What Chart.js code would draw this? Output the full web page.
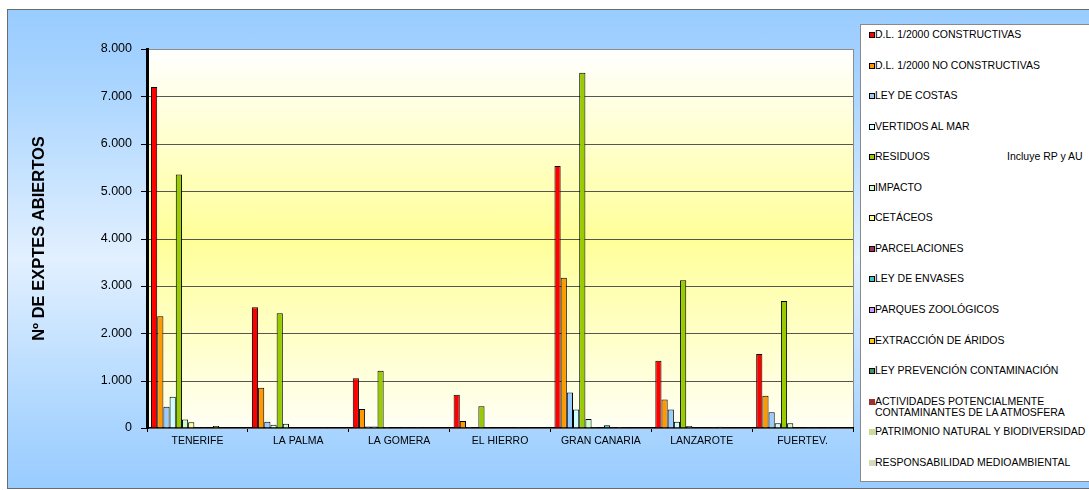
<!DOCTYPE html>
<html>
<head>
<meta charset="utf-8">
<script src="https://cdn.jsdelivr.net/npm/chart.js@4.4.1/dist/chart.umd.min.js"></script>
<style>
    body { margin: 0; width: 1089px; height: 490px; overflow: hidden; background: #fff; position: relative; }
    #frame {
        position: absolute; left: 7px; top: 9px; width: 1090px; height: 478px;
        border: 1px solid #6b6b6b;
        background: linear-gradient(to bottom, #99ccff 0%, #a8d4ff 15%, #e2f0ff 52%, #a8d4ff 88%, #99ccff 100%);
    }
    #plot {
        position: absolute; box-sizing: border-box;
        border-top: 1px solid #8c8c8c; border-right: 1px solid #8c8c8c;
        background: linear-gradient(to bottom, #ffffff 0%, #ffff99 50%, #fffff4 100%);
    }
    #wrap { position: absolute; left: 0; top: 0; width: 1089px; height: 490px; }
    #legend {
        position: absolute; left: 860px; top: 24px; width: 240px; height: 456px;
        border: 1px solid #8a8a8a; background: #fff;
        font-family: "Liberation Sans", Arial, sans-serif; font-size: 10.5px; color: #000;
    }
    .item { position: absolute; left: 8px; line-height: 11px; }
    .item .box { position: absolute; left: 0; top: 3px; width: 6px; height: 6px; box-sizing: border-box; }
    .item .txt { position: absolute; left: 6px; top: 0; white-space: pre; }
    .note { position: absolute; left: 146px; white-space: pre; }
</style>
</head>
<body>
<div id="frame"></div>
<div id="plot"></div>
<div id="wrap"><canvas id="chart" width="1089" height="490"></canvas></div>
<div id="legend"></div>

<script>
// Islands on the x axis
const islands = ['TENERIFE', 'LA PALMA', 'LA GOMERA', 'EL HIERRO', 'GRAN CANARIA', 'LANZAROTE', 'FUERTEV.'];

// Nº of files opened per island, one array per type
const constructivas   = [7200, 2550, 1050, 700, 5530, 1420, 1560];
const noConstructivas = [2360, 850, 400, 150, 3170, 600, 680];
const leyCostas       = [450, 130, 30, 20, 750, 390, 330];
const vertidos        = [660, 70, 30, 10, 390, 130, 100];
const residuos        = [5350, 2420, 1210, 460, 7500, 3120, 2680];
const impacto         = [180, 90, 20, 5, 190, 40, 100];
const cetaceos        = [120, 0, 0, 0, 5, 0, 0];
const parcelaciones   = [20, 0, 0, 0, 10, 0, 0];
const leyEnvases      = [5, 10, 5, 0, 60, 10, 5];
const parques         = [15, 0, 0, 0, 5, 5, 5];
const aridos          = [40, 10, 5, 5, 20, 25, 10];
const prevencion      = [5, 5, 0, 0, 5, 5, 5];
const atmosfera       = [0, 0, 0, 0, 0, 0, 0];
const patrimonio      = [10, 0, 0, 0, 10, 0, 0];
const responsabilidad = [0, 0, 0, 0, 0, 0, 0];

const seriesNames = [
    'D.L. 1/2000 CONSTRUCTIVAS', 'D.L. 1/2000 NO CONSTRUCTIVAS', 'LEY DE COSTAS', 'VERTIDOS AL MAR',
    'RESIDUOS', 'IMPACTO', 'CETÁCEOS', 'PARCELACIONES', 'LEY DE ENVASES', 'PARQUES ZOOLÓGICOS',
    'EXTRACCIÓN DE ÁRIDOS', 'LEY PREVENCIÓN CONTAMINACIÓN',
    'ACTIVIDADES POTENCIALMENTE\nCONTAMINANTES DE LA ATMOSFERA',
    'PATRIMONIO NATURAL Y BIODIVERSIDAD', 'RESPONSABILIDAD MEDIOAMBIENTAL'
];
const seriesValues = [constructivas, noConstructivas, leyCostas, vertidos, residuos, impacto, cetaceos,
    parcelaciones, leyEnvases, parques, aridos, prevencion, atmosfera, patrimonio, responsabilidad];
const seriesColors = ['#ff0000', '#ff9900', '#99ccff', '#ccffff', '#99cc00', '#ccffcc', '#ffff99',
    '#993366', '#33cccc', '#cc99ff', '#ffcc00', '#339966', '#993333', '#c6de9a', '#cfdcc0'];
// last three types are drawn without outline
const seriesOutlined = [true, true, true, true, true, true, true, true, true, true, true, true, false, false, false];

const residuosNote = 'Incluye RP y AU';

const yTicks = [0, 1000, 2000, 3000, 4000, 5000, 6000, 7000, 8000];
const yTickLabels = ['0', '1.000', '2.000', '3.000', '4.000', '5.000', '6.000', '7.000', '8.000'];

Chart.defaults.font.family = '"Liberation Sans", Arial, sans-serif';
Chart.defaults.color = '#000';

// Horizontal grid lines and the little tick marks left of the axis,
// placed with the y scale (the built-in grid did not show up here)
const yGrid = {
    id: 'yGrid',
    beforeDatasetsDraw(chart) {
        const { ctx, chartArea: a, scales: { y } } = chart;
        ctx.save();
        yTicks.forEach(v => {
            const py = Math.round(y.getPixelForValue(v));
            ctx.fillStyle = v === yTicks[yTicks.length - 1] ? '#8c8c8c' : '#555555';
            ctx.fillRect(a.left, py, a.right - a.left, 1);
            ctx.fillStyle = '#000';
            ctx.fillRect(a.left - 6, py, 6, 1);
        });
        ctx.restore();
    }
};

const datasets = seriesNames.map((name, i) => ({
    label: name,
    data: seriesValues[i],
    backgroundColor: seriesColors[i],
    borderColor: '#000',
    borderWidth: seriesOutlined[i] ? 1 : 0
}));

const chart = new Chart(document.getElementById('chart'), {
    type: 'bar',
    data: { labels: islands, datasets: datasets },
    options: {
        responsive: false,
        animation: false,
        layout: { padding: { left: 8, top: 49, right: 236, bottom: 0 } },
        datasets: { bar: { categoryPercentage: 0.92, barPercentage: 1 } },
        plugins: { legend: { display: false }, tooltip: { enabled: false } },
        scales: {
            x: {
                grid: { drawOnChartArea: false, tickLength: 4, tickColor: '#000', offset: true },
                border: { color: '#000', width: 2 },
                ticks: { font: { size: 10.5 }, padding: 3 },
                afterFit(scale) { scale.height = 62; }
            },
            y: {
                min: yTicks[0],
                max: yTicks[yTicks.length - 1],
                ticks: {
                    stepSize: 1000,
                    font: { size: 12.5 },
                    padding: 15,
                    callback: (v) => yTickLabels[yTicks.indexOf(v)]
                },
                grid: { drawOnChartArea: false, drawTicks: false, tickLength: 6 },
                border: { color: '#000', width: 3, z: 1 },
                title: {
                    display: true,
                    text: 'Nº DE EXPTES ABIERTOS',
                    font: { size: 16.5, weight: 'bold' },
                    padding: { top: 22, bottom: 0 }
                },
                afterFit(scale) { scale.width = 139; }
            }
        }
    },
    plugins: [yGrid]
});

// Yellow plot area behind the transparent canvas, placed on the chart area
const area = chart.chartArea;
const plot = document.getElementById('plot');
plot.style.left = area.left + 'px';
plot.style.top = area.top + 'px';
plot.style.width = (area.right - area.left + 1) + 'px';
plot.style.height = (area.bottom - area.top) + 'px';

// Legend on the right, built from the datasets
function buildLegend() {
    const legend = document.getElementById('legend');
    chart.data.datasets.forEach((ds, i) => {
        const row = document.createElement('div');
        row.className = 'item';
        row.style.top = (4 + i * 30.55) + 'px';
        const border = seriesOutlined[i] ? '1px solid #000' : 'none';
        row.innerHTML = `<span class="box" style="background:${ds.backgroundColor};border:${border}"></span>` +
            `<span class="txt">${ds.label}</span>`;
        legend.appendChild(row);
        if (i === 4) {
            const note = document.createElement('div');
            note.className = 'item note';
            note.style.top = row.style.top;
            note.textContent = residuosNote;
            legend.appendChild(note);
        }
    });
}
buildLegend();
</script>
</body>
</html>
